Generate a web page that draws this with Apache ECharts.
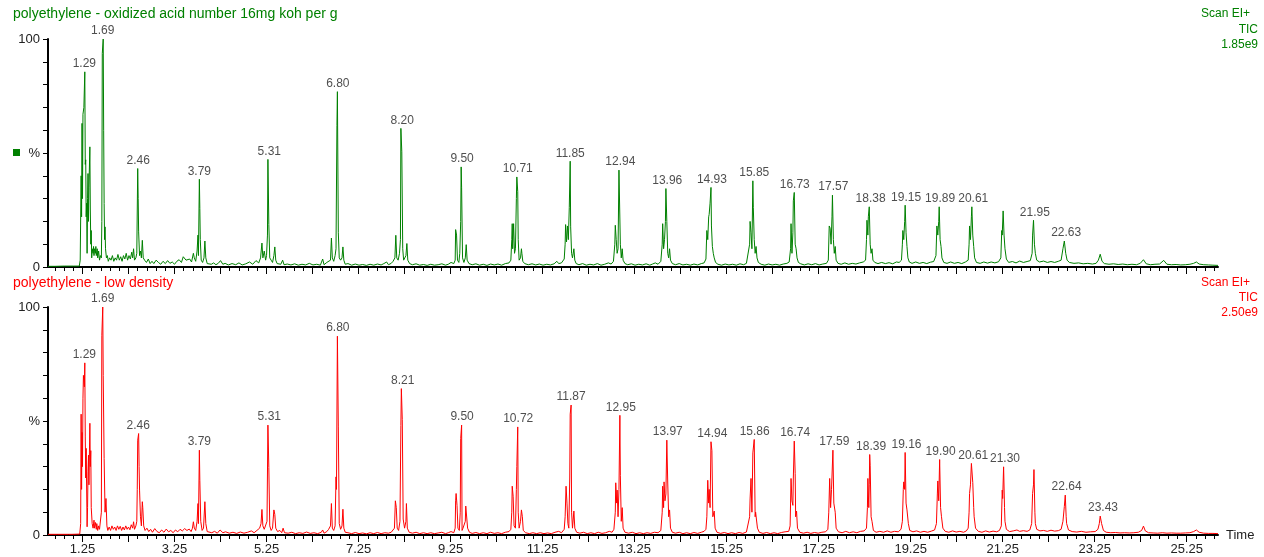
<!DOCTYPE html>
<html><head><meta charset="utf-8">
<script src="https://cdn.jsdelivr.net/npm/echarts@6/dist/echarts.min.js"></script>
<style>html,body{margin:0;padding:0;background:#fff}#chart{width:1264px;height:557px}</style>
</head><body><div id="chart"></div>
<script>
// ---- axis tick labels ----
const timeAxisLabels = ['1.25','3.25','5.25','7.25','9.25','11.25','13.25','15.25','17.25','19.25','21.25','23.25','25.25'];
const majorTickTimes = [1.25,2.25,3.25,4.25,5.25,6.25,7.25,8.25,9.25,10.25,11.25,12.25,13.25,14.25,15.25,16.25,17.25,18.25,19.25,20.25,21.25,22.25,23.25,24.25,25.25];
const intensityLabels = {0:'0', 50:'%', 100:'100'};

// ---- series: polyethylene - oxidized acid number 16mg koh per g (time min, % of 1.85e9) ----
const oxidizedTrace = [
[0.50,0.3],[0.65,0.3],[0.85,0.4],[1.00,0.4],[1.03,1.2],[1.05,0.4],[1.18,0.4],
[1.20,3],[1.22,40],[1.23,22],[1.24,63],[1.25,30],[1.26,67],[1.28,70],[1.30,85.6],[1.31,45],[1.32,47],[1.33,22],[1.34,28],[1.35,6],[1.36,30],[1.37,41],[1.38,20],[1.39,35],[1.41,52.7],[1.42,25],[1.43,10],[1.44,16],[1.45,4],[1.46,8],[1.48,6],[1.49,9],[1.50,5],[1.51,8],[1.53,6],[1.54,9],[1.55,5],[1.57,8],[1.58,4],[1.60,7],[1.62,3],[1.64,5],[1.66,4],
[1.67,20],[1.68,93.7],[1.70,100],[1.71,60],[1.72,27.8],[1.73,12],[1.74,17.6],[1.75,8],[1.77,4],[1.79,5],[1.81,2.5],[1.84,4],[1.87,3],[1.90,5],[1.93,2.5],[1.96,4],[1.99,3],[2.02,5.5],[2.05,3],[2.08,4.5],[2.11,2.5],[2.14,5],[2.17,3.5],[2.20,6],[2.23,3],[2.26,5],[2.29,3.5],[2.32,6.5],[2.34,4],[2.36,8],[2.38,3],[2.41,4],[2.43,6],
[2.45,43.2],[2.46,30],[2.47,15.4],[2.49,5],[2.51,7],[2.53,4],[2.55,11.7],[2.57,4],[2.60,3],[2.64,2],[2.68,3.5],[2.72,1.5],[2.76,2.5],[2.80,1.5],[2.85,3],[2.90,2],[2.95,1.2],[3.00,2.5],[3.05,1.5],[3.10,2.8],[3.15,1.6],[3.20,2.2],[3.25,1.2],[3.30,2.5],[3.35,3.2],[3.40,2.0],[3.44,4.5],[3.47,5.2],[3.50,3],[3.54,2.5],[3.58,3.5],[3.62,2.2],[3.66,6],[3.68,4],[3.71,2.5],[3.74,7],[3.76,14],[3.77,5],
[3.79,38.5],[3.80,25.6],[3.81,12],[3.83,3],[3.86,2],[3.89,4],[3.91,11.4],[3.93,4],[3.96,1.5],[4.00,2.2],[4.05,1.2],[4.10,1.8],[4.15,1.0],[4.20,1.6],[4.25,2.8],[4.30,1.2],[4.35,1.6],[4.42,0.9],[4.50,1.5],[4.58,1.0],[4.65,1.8],[4.72,0.9],[4.80,1.4],[4.88,2.2],[4.95,1.2],[5.02,2.8],[5.08,1.8],[5.12,4],[5.15,10.5],[5.17,4],[5.20,7],[5.23,3],[5.25,5],[5.27,14],
[5.28,47.2],[5.30,18.6],[5.32,4],[5.35,3],[5.38,2],[5.41,5],[5.43,8.8],[5.45,3],[5.48,1.5],[5.52,2],[5.56,1.2],[5.60,3.0],[5.63,1.0],[5.70,1.3],[5.78,0.9],[5.86,1.4],[5.94,0.8],[6.02,1.2],[6.10,0.9],[6.18,1.6],[6.26,0.9],[6.34,1.2],[6.42,0.8],[6.47,3.5],[6.50,1.0],[6.56,2.0],[6.60,1.2],[6.64,3],[6.66,12.7],[6.68,4],[6.71,2.5],[6.74,5],[6.76,8],
[6.78,62],[6.79,76.9],[6.81,15],[6.83,4],[6.86,3],[6.89,4],[6.91,8.8],[6.93,3],[6.96,1.2],[7.02,1.5],[7.10,0.8],[7.18,1.3],[7.26,0.8],[7.34,1.1],[7.42,0.7],[7.50,1.2],[7.58,0.8],[7.66,1.3],[7.74,0.9],[7.80,1.5],[7.86,2.2],[7.90,1.0],[7.96,1.6],[8.00,2.5],[8.04,4],[8.06,13.9],[8.08,4],[8.11,3],[8.14,6],[8.16,12],
[8.17,60.8],[8.19,50.5],[8.21,8],[8.23,3],[8.26,3.5],[8.28,5],[8.30,10.3],[8.32,3],[8.36,1.5],[8.42,1.0],[8.50,1.4],[8.58,0.8],[8.66,1.1],[8.74,0.7],[8.82,1.2],[8.90,0.8],[8.98,1.0],[9.06,1.4],[9.14,0.8],[9.20,1.2],[9.26,2.0],[9.32,1.5],[9.35,3],[9.36,16.4],[9.38,14],[9.40,3],[9.43,2],[9.45,6],[9.47,20],
[9.48,43.9],[9.49,34.7],[9.51,4],[9.54,2],[9.57,4],[9.59,9.8],[9.61,3],[9.65,1.5],[9.72,1.0],[9.80,1.4],[9.88,0.8],[9.96,1.2],[10.04,0.7],[10.12,1.3],[10.20,0.9],[10.28,1.3],[10.36,0.8],[10.44,1.5],[10.52,1.8],[10.56,3],[10.58,12],[10.59,19],[10.60,8],[10.62,19],[10.64,6],[10.66,8],[10.68,30],
[10.69,39.5],[10.71,33],[10.72,12],[10.74,3],[10.77,4],[10.79,8],[10.80,6],[10.82,2.5],[10.86,1.5],[10.94,1.0],[11.02,1.4],[11.10,0.9],[11.18,1.3],[11.26,0.8],[11.34,1.2],[11.42,0.9],[11.50,1.4],[11.56,2.5],[11.60,1.5],[11.66,1.8],[11.72,3.5],[11.74,10],[11.75,18.6],[11.77,11],[11.79,18],[11.81,12],[11.83,26],
[11.85,46.4],[11.86,17.6],[11.88,6],[11.90,4],[11.93,8],[11.95,3],[11.98,1.5],[12.04,1.0],[12.12,1.5],[12.20,0.8],[12.28,1.2],[12.36,0.9],[12.44,1.5],[12.52,0.8],[12.60,1.2],[12.68,1.8],[12.74,1.3],[12.79,2.5],[12.82,10],[12.83,18.3],[12.85,12],[12.87,6],[12.89,8],
[12.91,42.5],[12.93,42],[12.94,10],[12.96,4],[12.98,8],[13.00,3],[13.04,1.5],[13.10,1.0],[13.18,1.4],[13.26,0.8],[13.34,1.2],[13.42,0.9],[13.50,1.4],[13.58,0.8],[13.64,1.3],[13.70,1.8],[13.76,1.2],[13.82,2.5],[13.85,10],[13.86,19],[13.88,8],[13.90,12],[13.92,20],
[13.93,34.4],[13.95,20],[13.97,6],[13.99,4],[14.01,8],[14.03,3],[14.07,1.5],[14.14,1.0],[14.22,1.5],[14.30,0.9],[14.38,1.2],[14.46,0.8],[14.54,1.3],[14.62,0.9],[14.70,1.5],[14.76,1.8],[14.80,3.5],[14.82,16],[14.84,12],[14.86,22],[14.87,23],[14.89,28],
[14.91,34.9],[14.92,18],[14.94,9],[14.96,6],[14.98,4],[15.01,2],[15.06,1.2],[15.14,0.8],[15.22,1.3],[15.30,0.9],[15.38,1.2],[15.46,0.8],[15.54,1.4],[15.62,1.0],[15.68,1.6],[15.72,2.2],[15.75,10],[15.76,20],[15.78,15],[15.80,8],
[15.82,37.8],[15.83,26],[15.85,12],[15.87,6],[15.89,9],[15.91,4],[15.94,2],[16.00,1.2],[16.08,0.8],[16.16,1.3],[16.24,0.9],[16.32,1.2],[16.40,0.8],[16.48,1.3],[16.56,1.6],[16.61,2.2],[16.64,8],[16.65,19],[16.67,6],[16.69,15],[16.70,29],
[16.72,32.7],[16.74,10],[16.76,8],[16.78,4],[16.81,2],[16.86,1.4],[16.94,0.9],[17.02,1.4],[17.10,1.0],[17.18,1.5],[17.26,0.9],[17.34,1.3],[17.42,1.6],[17.46,3],[17.48,18],[17.50,17],[17.52,10],[17.54,22],
[17.55,31.5],[17.57,12],[17.59,6],[17.61,9],[17.63,3],[17.67,1.6],[17.74,1.2],[17.82,1.8],[17.90,1.2],[17.98,1.6],[18.06,1.3],[18.14,1.8],[18.22,2.2],[18.27,3],[18.29,12],[18.30,20.5],[18.32,14],[18.33,22],
[18.35,26.4],[18.37,10],[18.39,6],[18.41,8],[18.43,3],[18.47,2],[18.54,1.5],[18.62,2.0],[18.70,1.5],[18.78,1.9],[18.86,1.4],[18.94,2.2],[19.00,2.0],[19.05,3],[19.07,10],[19.08,16],[19.10,12],[19.12,20],
[19.13,27.1],[19.15,15],[19.17,9],[19.19,4],[19.22,2.2],[19.28,1.6],[19.36,2.2],[19.44,1.6],[19.52,2.0],[19.60,1.5],[19.68,2.1],[19.75,2.4],[19.80,5],[19.82,18],[19.84,14],[19.86,20],
[19.87,26.4],[19.89,12],[19.91,9],[19.93,4],[19.97,2],[20.04,1.6],[20.12,2.2],[20.20,1.6],[20.28,2.0],[20.36,1.5],[20.44,2.2],[20.50,3],[20.52,10],[20.53,18],[20.55,12],[20.57,22],
[20.58,26.4],[20.60,14],[20.62,9],[20.64,4],[20.68,2],[20.76,1.6],[20.84,2.2],[20.92,1.7],[21.00,2.2],[21.08,1.8],[21.16,2.3],[21.21,4],[21.23,16],[21.24,14],
[21.26,24.6],[21.28,14],[21.30,8],[21.33,3.5],[21.38,2],[21.46,2.4],[21.54,1.8],[21.62,2.6],[21.70,2.0],[21.78,2.4],[21.85,2.8],[21.89,6],[21.90,14],
[21.92,20.5],[21.94,10],[21.96,6],[21.99,3],[22.05,2.2],[22.14,2.6],[22.22,2.0],[22.30,2.4],[22.38,2.0],[22.46,2.5],[22.52,3],[22.56,8],
[22.59,11.4],[22.62,6],[22.65,3],[22.70,2.0],[22.80,1.6],[22.90,1.8],[23.00,1.4],[23.10,1.6],[23.20,1.3],[23.28,1.6],[23.33,3],[23.37,5.6],[23.41,2.5],[23.46,1.5],[23.56,1.2],[23.66,1.4],[23.76,1.1],[23.86,1.3],[23.96,1.0],[24.06,1.2],[24.16,1.0],[24.24,1.6],[24.31,3.2],[24.37,1.4],[24.46,1.0],[24.56,1.2],[24.66,1.3],[24.75,2.9],[24.82,1.2],[24.92,1.0],[25.02,1.1],[25.12,0.9],[25.22,1.0],[25.32,1.2],[25.40,1.6],[25.46,2.2],[25.52,1.3],[25.62,1.0],[25.72,0.9],[25.82,0.8],[25.93,0.7]
];

// ---- series: polyethylene - low density (time min, % of 2.50e9) ----
const lowDensityTrace = [
[0.50,0.3],[0.70,0.3],[0.95,0.3],[1.02,0.3],[1.04,0.8],[1.06,0.3],[1.19,0.4],
[1.21,5],[1.22,53],[1.23,20],[1.24,45],[1.25,30],[1.26,60],[1.27,70],[1.29,65],[1.30,75.5],[1.31,43],[1.32,25],[1.33,38],[1.35,3.6],[1.36,12],[1.37,28],[1.38,35],[1.39,22],[1.41,49],[1.42,30],[1.43,37],[1.44,12],[1.46,5],[1.48,3],[1.50,6.5],[1.51,3],[1.53,5.5],[1.55,2.5],[1.56,5],[1.58,2],[1.60,4],[1.62,2.5],[1.64,3],
[1.66,10],[1.67,87.6],[1.69,100],[1.70,70],[1.72,33.5],[1.74,10],[1.76,16],[1.78,4],[1.80,2],[1.83,3.5],[1.86,2],[1.89,4],[1.92,2.5],[1.95,3.5],[1.98,2],[2.01,4],[2.04,2.5],[2.07,3.8],[2.10,2],[2.13,3.5],[2.16,2.2],[2.19,4],[2.22,2.5],[2.25,3.5],[2.28,2.3],[2.31,4.5],[2.34,3],[2.36,5.8],[2.38,2.5],[2.41,4],[2.43,6],
[2.44,20],[2.45,41.6],[2.47,44.5],[2.48,30],[2.49,19.7],[2.51,8],[2.53,4],[2.55,14.6],[2.56,12],[2.58,4],[2.61,2],[2.65,3],[2.69,1.5],[2.73,2.5],[2.77,1.2],[2.82,2.8],[2.87,1.5],[2.92,1.0],[2.97,2.2],[3.02,1.2],[3.07,2.6],[3.12,1.4],[3.17,2.0],[3.22,1.0],[3.27,2.2],[3.32,1.4],[3.37,2.5],[3.42,1.8],[3.47,2.8],[3.52,2.0],[3.57,2.6],[3.61,1.5],[3.64,3],[3.66,5.8],[3.68,3],[3.71,2],[3.74,6],[3.76,13.8],[3.77,5],
[3.79,37.2],[3.80,24],[3.82,6],[3.85,2],[3.88,3],[3.91,14.6],[3.93,5],[3.96,1.5],[4.00,2.0],[4.06,1.0],[4.12,1.6],[4.18,0.8],[4.24,2.2],[4.30,1.0],[4.36,1.4],[4.44,0.8],[4.52,1.2],[4.60,0.7],[4.68,1.3],[4.76,0.8],[4.84,1.2],[4.92,1.8],[4.98,1.0],[5.04,2.0],[5.10,3],[5.13,5],[5.15,11.2],[5.17,4],[5.20,2.5],[5.23,3],[5.26,6],
[5.28,48.2],[5.30,29.6],[5.32,4],[5.35,2],[5.38,3],[5.41,11],[5.43,9],[5.45,3],[5.49,1.5],[5.54,2],[5.58,1.0],[5.61,3],[5.64,1.0],[5.72,0.8],[5.80,1.2],[5.88,0.6],[5.96,1.0],[6.04,0.7],[6.12,1.3],[6.20,0.7],[6.28,1.0],[6.36,0.6],[6.44,1.2],[6.47,2.2],[6.50,0.8],[6.56,1.5],[6.60,2.5],[6.64,4],[6.66,13.8],[6.68,3],[6.71,2],[6.74,4],[6.76,25.5],[6.77,20],
[6.79,87.2],[6.81,47.4],[6.83,5],[6.86,2.5],[6.89,4],[6.91,11.3],[6.93,3],[6.96,1.2],[7.02,1.0],[7.10,0.6],[7.18,1.1],[7.26,0.6],[7.34,0.9],[7.42,0.5],[7.50,1.0],[7.58,0.6],[7.66,1.1],[7.74,0.6],[7.82,1.0],[7.86,1.8],[7.90,0.8],[7.96,1.2],[8.00,2],[8.03,3],[8.05,15],[8.07,12],[8.09,3],[8.12,2],[8.15,6],[8.17,48],
[8.18,64.2],[8.20,50.6],[8.22,7],[8.25,3],[8.28,6],[8.29,13.8],[8.31,3],[8.35,1.2],[8.42,0.8],[8.50,1.2],[8.58,0.6],[8.66,1.0],[8.74,0.6],[8.82,1.0],[8.90,0.6],[8.98,0.9],[9.06,1.2],[9.14,0.6],[9.20,1.0],[9.26,1.5],[9.32,1.0],[9.35,3],[9.36,15],[9.37,18.2],[9.39,13],[9.41,3],[9.44,2],[9.46,10],[9.47,42.3],
[9.49,48.2],[9.50,2],[9.52,3],[9.57,6],[9.58,12.7],[9.60,12],[9.62,3],[9.66,1.2],[9.72,0.7],[9.80,1.1],[9.88,0.6],[9.96,1.0],[10.04,0.6],[10.12,1.2],[10.20,0.7],[10.28,1.0],[10.36,0.6],[10.44,1.2],[10.52,1.5],[10.56,2.5],[10.58,10],[10.59,21.4],[10.61,17],[10.63,4],[10.66,3],[10.68,20],[10.69,30],
[10.71,47.4],[10.72,10],[10.74,3],[10.77,6],[10.79,11],[10.81,8],[10.83,2],[10.88,1.0],[10.96,0.6],[11.04,1.0],[11.12,0.6],[11.20,1.0],[11.28,0.6],[11.36,0.9],[11.44,0.6],[11.52,1.2],[11.60,1.6],[11.66,1.0],[11.72,2.5],[11.74,8],[11.76,21.4],[11.78,14],[11.80,5],[11.82,3],[11.84,25],[11.85,53],
[11.87,57],[11.88,10],[11.90,3],[11.93,10.5],[11.95,3],[11.99,1.2],[12.06,0.8],[12.14,1.2],[12.22,0.6],[12.30,1.0],[12.38,0.6],[12.46,1.2],[12.54,0.7],[12.62,1.0],[12.70,1.6],[12.76,1.2],[12.80,2.5],[12.83,10],[12.84,22.9],[12.86,14],[12.87,19.7],[12.89,8],[12.91,20],
[12.93,52.5],[12.94,26],[12.96,6],[12.98,12],[13.00,3],[13.04,1.2],[13.12,0.8],[13.20,1.2],[13.28,0.6],[13.36,1.0],[13.44,0.6],[13.52,1.0],[13.60,0.7],[13.68,1.2],[13.76,1.0],[13.82,2],[13.85,10],[13.86,21.4],[13.88,12],[13.89,23.3],[13.91,15],[13.93,18],
[13.95,41.6],[13.97,22.8],[13.99,8],[14.01,11],[14.03,3],[14.07,1.2],[14.14,0.8],[14.22,1.2],[14.30,0.6],[14.38,1.0],[14.46,0.6],[14.54,1.1],[14.62,0.7],[14.70,1.2],[14.76,1.6],[14.80,2.5],[14.82,8],[14.84,24],[14.86,14],[14.87,20],[14.89,12],
[14.91,40.9],[14.93,37],[14.95,8],[14.98,10.5],[15.00,3],[15.04,1.2],[15.12,0.7],[15.20,1.1],[15.28,0.6],[15.36,1.0],[15.44,0.6],[15.52,1.1],[15.60,0.7],[15.68,1.3],[15.72,2.0],[15.75,8],[15.76,15.8],[15.78,24.8],[15.80,10],[15.82,36],
[15.85,41.9],[15.87,8],[15.88,10],[15.90,10.5],[15.92,3],[15.96,1.2],[16.04,0.7],[16.12,1.1],[16.20,0.6],[16.28,1.0],[16.36,0.6],[16.44,1.1],[16.52,1.4],[16.60,1.6],[16.63,4],[16.65,24.8],[16.67,15],[16.69,13],[16.70,25],
[16.72,41.2],[16.74,26.9],[16.75,8],[16.77,10.5],[16.79,3],[16.84,1.2],[16.92,0.8],[17.00,1.2],[17.08,0.7],[17.16,1.1],[17.24,0.8],[17.32,1.2],[17.40,1.4],[17.45,2.5],[17.47,10],[17.49,24.8],[17.51,12],[17.53,20],
[17.56,37.2],[17.58,14],[17.61,10],[17.63,3],[17.68,1.4],[17.76,1.0],[17.84,1.6],[17.92,1.0],[18.00,1.4],[18.08,1.0],[18.16,1.6],[18.24,1.8],[18.29,3],[18.31,12],[18.32,24.8],[18.34,12],[18.35,22],
[18.36,35.3],[18.37,30.6],[18.39,8],[18.41,6],[18.44,2],[18.50,1.2],[18.58,1.6],[18.66,1.2],[18.74,1.8],[18.82,1.2],[18.90,1.6],[18.98,1.4],[19.04,2.5],[19.07,6],[19.09,20],[19.10,23.3],[19.12,20],
[19.13,36.2],[19.15,14],[19.17,11],[19.20,5],[19.23,2],[19.30,1.4],[19.38,1.8],[19.46,1.2],[19.54,1.6],[19.62,1.2],[19.70,1.7],[19.77,2.2],[19.81,5],[19.83,18],[19.84,23.7],[19.86,15],
[19.88,33.1],[19.90,12],[19.92,8],[19.95,3],[20.00,1.6],[20.08,1.2],[20.16,1.8],[20.24,1.3],[20.32,1.6],[20.40,1.2],[20.46,1.8],[20.50,3],[20.52,10],[20.53,18.2],[20.55,22],
[20.57,31.4],[20.60,23],[20.62,12],[20.63,8],[20.66,3],[20.72,1.6],[20.80,1.2],[20.88,1.8],[20.96,1.3],[21.04,1.7],[21.12,1.4],[21.18,2.0],[21.22,4],[21.24,19.7],[21.25,16],
[21.27,29.9],[21.29,12],[21.30,6],[21.33,2.5],[21.40,1.5],[21.48,1.8],[21.56,2.2],[21.62,1.6],[21.70,1.9],[21.78,1.6],[21.84,2.2],[21.88,5],[21.90,18.2],[21.92,22],
[21.93,28.7],[21.95,10],[21.96,5],[21.99,2.5],[22.06,1.8],[22.14,2.0],[22.22,1.6],[22.30,2.1],[22.38,1.7],[22.46,1.9],[22.52,2.5],[22.56,6],[22.59,12.5],
[22.61,17.5],[22.63,8],[22.64,5],[22.68,2.2],[22.76,1.5],[22.86,1.3],[22.96,1.6],[23.06,1.2],[23.16,1.4],[23.26,1.5],[23.32,2.5],[23.35,5],
[23.37,8.3],[23.40,5],[23.44,2],[23.50,1.2],[23.60,1.0],[23.70,1.1],[23.80,0.9],[23.90,1.0],[24.00,0.9],[24.10,1.0],[24.20,1.2],[24.27,2.0],[24.31,3.9],[24.35,1.8],[24.42,1.0],[24.52,0.9],[24.62,0.8],[24.72,1.0],[24.82,0.8],[24.92,0.9],[25.02,0.8],[25.12,0.8],[25.22,0.9],[25.32,1.0],[25.40,1.5],[25.46,2.2],[25.52,1.2],[25.62,0.8],[25.72,0.7],[25.82,0.7],[25.93,0.6]
];

// ---- peak annotations (retention time, apex %) ----
const oxidizedPeakTimes   = [1.29,1.69,2.46,3.79,5.31,6.80,8.20,9.50,10.71,11.85,12.94,13.96,14.93,15.85,16.73,17.57,18.38,19.15,19.89,20.61,21.95,22.63];
const oxidizedPeakHeights = [85.6,100,43.2,38.5,47.2,76.9,60.8,43.9,39.5,46.4,42.5,34.4,34.9,37.8,32.7,31.5,26.4,27.1,26.4,26.4,20.5,11.4];
const lowDensityPeakTimes   = [1.29,1.69,2.46,3.79,5.31,6.80,8.21,9.50,10.72,11.87,12.95,13.97,14.94,15.86,16.74,17.59,18.39,19.16,19.90,20.61,21.30,22.64,23.43];
const lowDensityPeakHeights = [75.5,100,44.5,37.2,48.2,87.2,64.2,48.2,47.4,57,52.5,41.6,40.9,41.9,41.2,37.2,35.3,36.2,33.1,31.4,29.9,17.5,8.3];

const GREEN = '#008000', RED = '#ff0000', INK = '#222222';
const X_MIN = 0.5, X_MAX = 25.93;
const FONT = 'Liberation Sans, Arial, sans-serif';

const minorTickTimes = [];
for (let k = 0; ; k++) { const t = Math.round((0.65 + 0.2 * k) * 100) / 100; if (t > X_MAX) break; minorTickTimes.push(t); }
const labelTimes = timeAxisLabels.map(Number);

function timeAxes(gridIndex, withLabels) {
  return [
    { type: 'value', gridIndex, min: X_MIN, max: X_MAX, position: 'bottom',
      axisLine: { show: true, onZero: false, lineStyle: { color: '#000', width: 2 } },
      axisTick: { show: true, customValues: minorTickTimes, length: 4, lineStyle: { color: '#000', width: 1 } },
      axisLabel: { show: false }, splitLine: { show: false },
      name: withLabels ? 'Time' : '', nameLocation: 'end', nameGap: 8,
      nameTextStyle: { fontSize: 13, color: INK, fontFamily: FONT, align: 'left', verticalAlign: 'middle' } },
    { type: 'value', gridIndex, min: X_MIN, max: X_MAX, position: 'bottom',
      axisLine: { show: false, onZero: false },
      axisTick: { show: true, customValues: majorTickTimes, length: 7, lineStyle: { color: '#000', width: 1 } },
      axisLabel: { show: withLabels, customValues: labelTimes, formatter: v => v.toFixed(2), margin: 8, fontSize: 13, color: INK, fontFamily: FONT },
      splitLine: { show: false } }
  ];
}
function intensityAxis(gridIndex) {
  return { type: 'value', gridIndex, min: 0, max: 100, interval: 10,
    axisLine: { show: true, lineStyle: { color: '#000', width: 2 } },
    axisTick: { show: true, length: 5, lineStyle: { color: '#000', width: 1 } },
    axisLabel: { formatter: v => (intensityLabels[v] !== undefined ? intensityLabels[v] : ''), margin: 8, fontSize: 13, color: INK, fontFamily: FONT },
    splitLine: { show: false } };
}
function labelSeries(times, heights, xi, yi) {
  return { type: 'scatter', xAxisIndex: xi, yAxisIndex: yi, symbolSize: 0, silent: true,
    itemStyle: { color: 'transparent' },
    data: times.map((t, i) => [t, heights[i]]),
    label: { show: true, position: 'top', distance: 2, formatter: p => p.value[0].toFixed(2),
      fontSize: 12, color: INK, fontFamily: FONT } };
}
function txt(x, y, text, color, size, align) {
  return { type: 'text', x, y, silent: true,
    style: { text, fill: color, font: size + 'px ' + FONT, textAlign: align, textVerticalAlign: 'top' } };
}

const chart = echarts.init(document.getElementById('chart'), null, { renderer: 'canvas' });
chart.setOption({
  animation: false,
  backgroundColor: '#ffffff',
  grid: [
    { left: 48, right: 46, top: 39, height: 228 },
    { left: 48, right: 46, top: 307, height: 228 }
  ],
  xAxis: [...timeAxes(0, false), ...timeAxes(1, true)],
  yAxis: [intensityAxis(0), intensityAxis(1)],
  series: [
    { type: 'line', xAxisIndex: 0, yAxisIndex: 0, data: oxidizedTrace, showSymbol: false, symbol: 'none',
      lineStyle: { color: GREEN, width: 1 }, itemStyle: { color: GREEN }, silent: true },
    { type: 'line', xAxisIndex: 2, yAxisIndex: 1, data: lowDensityTrace, showSymbol: false, symbol: 'none',
      lineStyle: { color: RED, width: 1 }, itemStyle: { color: RED }, silent: true },
    labelSeries(oxidizedPeakTimes, oxidizedPeakHeights, 0, 0),
    labelSeries(lowDensityPeakTimes, lowDensityPeakHeights, 2, 1)
  ],
  graphic: [
    txt(13, 7, 'polyethylene - oxidized acid number 16mg koh per g', GREEN, 14, 'left'),
    txt(1250, 8, 'Scan EI+', GREEN, 12, 'right'),
    txt(1258, 23.5, 'TIC', GREEN, 12, 'right'),
    txt(1258, 38.5, '1.85e9', GREEN, 12, 'right'),
    { type: 'rect', shape: { x: 13, y: 149, width: 7, height: 7 }, style: { fill: GREEN }, silent: true },
    txt(13, 276, 'polyethylene - low density', RED, 14, 'left'),
    txt(1250, 276.5, 'Scan EI+', RED, 12, 'right'),
    txt(1258, 291.5, 'TIC', RED, 12, 'right'),
    txt(1258, 307, '2.50e9', RED, 12, 'right')
  ]
});
</script>
</body></html>
